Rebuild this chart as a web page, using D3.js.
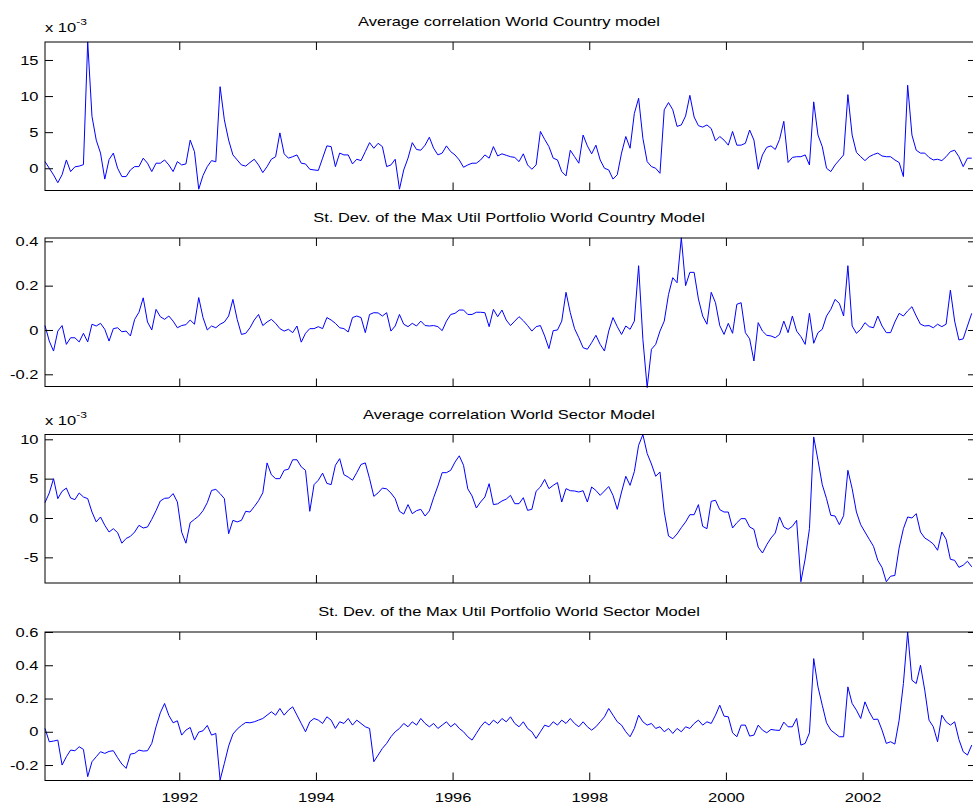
<!DOCTYPE html>
<html>
<head>
<meta charset="utf-8">
<script src="https://cdn.jsdelivr.net/npm/d3@7"></script>
<style>
  html, body { margin: 0; padding: 0; background: #fff; }
  svg { display: block; }
  text { font-family: "Liberation Sans", Arial, Helvetica, sans-serif; fill: #000; }
</style>
</head>
<body>
<svg id="chart" width="973" height="810"></svg>
<script>
// ---- data (samples 1/16 year apart, starting 1990.035) ----
const startYear = 1990.035;
const stepYear = 1 / 16;

const titles = [
  "Average correlation World Country model",
  "St. Dev. of the Max Util Portfolio World Country Model",
  "Average correlation World Sector Model",
  "St. Dev. of the Max Util Portfolio World Sector Model"
];

const xTickValues = [1992, 1994, 1996, 1998, 2000, 2002];
const xTickLabels = ["1992", "1994", "1996", "1998", "2000", "2002"];

const yTicks1 = [0, 5, 10, 15];
const yTicks2 = [-0.2, 0, 0.2, 0.4];
const yTicks3 = [-5, 0, 5, 10];
const yTicks4 = [-0.2, 0, 0.2, 0.4, 0.6];

const yLabels1 = ["0", "5", "10", "15"];
const yLabels2 = ["-0.2", "0", "0.2", "0.4"];
const yLabels3 = ["-5", "0", "5", "10"];
const yLabels4 = ["-0.2", "0", "0.2", "0.4", "0.6"];

const yDomain1 = [-3.08, 17.49];
const yDomain2 = [-0.255, 0.415];
const yDomain3 = [-8.26, 10.61];
const yDomain4 = [-0.293, 0.6];

// panel 1 (x 10^-3)
const countryCorr = [
0.92,0,-0.92,-2.0,-0.9,1.15,-0.46,0.2,0.3,0.5,
17.5,7.2,3.9,2.1,-1.5,1.2,2.1,0,-1.15,-1.15,
-0.23,0.23,0.23,1.4,0.7,-0.46,0.7,0.7,1.15,0.46,
-0.46,0.92,0.46,0.6,3.9,2.3,-2.9,-1.0,0.23,1.06,
0.9,11.3,6.7,3.9,1.85,1.15,0.46,0.3,0.8,1.25,
0.46,-0.6,0.23,1.25,1.6,4.9,2.0,1.4,1.6,1.85,
0.7,0.6,-0.14,-0.23,-0.3,1.4,3.1,3.0,0.23,2.1,
1.85,1.85,0.6,1.25,1.06,2.3,3.55,2.77,3.46,3.0,
0.23,0.46,1.25,-2.9,-0.23,1.4,3.55,2.6,2.5,3.2,
4.3,2.77,1.85,2.1,3.1,2.3,1.85,1.15,0.14,0.46,
0.7,0.7,1.15,1.85,1.4,3.0,1.7,2.0,1.8,1.6,
1.5,0.92,2.0,0.46,-0.14,0.46,5.1,4.0,3.0,1.4,
1.15,-0.46,-1.06,2.5,1.6,0.7,4.6,3.1,2.0,3.2,
1.15,0,-0.23,-1.5,-0.9,2.1,4.4,2.77,7.6,9.7,
4.15,0.92,0.23,0,-0.7,8.1,9.1,8.1,5.8,6.0,
7.25,10.1,7.1,5.9,5.7,6.0,5.5,3.8,4.4,3.9,
3.2,5.1,3.2,3.2,3.46,5.3,3.9,-0.14,1.85,2.9,
3.1,2.6,4.0,6.5,0.8,1.5,1.6,1.6,1.85,0.46,
9.2,4.6,3.0,0,-0.46,0.46,1.15,1.85,10.2,4.6,
2.2,1.6,1.06,1.6,1.9,2.1,1.7,1.6,1.6,1.15,
0.8,-1.15,11.5,4.6,2.5,2.1,2.1,1.5,1.15,1.25,
1.06,1.6,2.3,2.5,1.6,0.23,1.4,1.4
];

// panel 2
const countryStd = [
0.02,-0.05,-0.095,-0.005,0.02,-0.065,-0.035,-0.035,-0.054,-0.015,
-0.054,0.026,0.018,0.03,0.003,-0.05,0.006,0.01,-0.008,-0.005,
-0.027,0.048,0.08,0.145,0.036,0.0,0.093,0.06,0.048,0.063,
0.04,0.01,0.02,0.024,0.045,0.026,0.146,0.056,0,0.018,
0.01,0.026,0.036,0.063,0.138,0.048,-0.02,-0.015,0.01,0.045,
0.07,0.02,0.036,0.048,0.03,0.006,-0.005,0.003,-0.012,0.018,
-0.055,-0.015,0.006,0.006,0.015,0.006,0.056,0.045,0.03,0.01,
0.006,-0.009,0.056,0.063,0.056,-0.012,0.07,0.078,0.077,0.063,
0.078,-0.005,0.018,0.07,0.026,0.015,0.03,0.018,0.04,0.02,
0.018,0.02,0.015,-0.003,0.04,0.07,0.075,0.09,0.09,0.07,
0.07,0.08,0.08,0.078,0.015,0.093,0.06,0.09,0.045,0.02,
0.04,0.06,0.042,0.02,-0.005,0.015,0.02,-0.027,-0.084,-0.003,
0,0.04,0.17,0.078,0.006,-0.035,-0.08,-0.087,-0.057,-0.024,
-0.065,-0.095,-0.005,0.056,0.015,-0.02,0.018,0.003,0.04,0.29,
-0.042,-0.26,-0.087,-0.065,-0.005,0.04,0.16,0.236,0.213,0.416,
0.2,0.26,0.26,0.14,0.063,0.026,0.17,0.123,0.02,-0.02,
0.03,-0.015,0.116,0.123,-0.012,-0.04,-0.14,0.033,-0.005,-0.024,
-0.027,-0.035,-0.02,0.04,-0.012,0.063,-0.005,-0.03,-0.065,0.075,
-0.06,-0.012,0.003,0.063,0.093,0.138,0.12,0.063,0.29,0.018,
-0.015,0.003,0.033,0.015,0.01,0.063,0.018,-0.012,-0.012,0.036,
0.075,0.063,0.086,0.105,0.063,0.026,0.018,0.02,0.01,0.026,
0.015,0.026,0.18,0.04,-0.045,-0.04,0.018,0.075
];

// panel 3 (x 10^-3)
const sectorCorr = [
1.95,3.18,5.0,2.46,3.4,3.8,2.54,2.33,3.18,2.67,
2.46,0.76,-0.5,0.13,-0.93,-1.78,-1.36,-1.86,-3.2,-2.6,
-2.33,-1.78,-0.93,-1.27,-1.14,-0.17,0.93,2.16,2.5,2.54,
3.1,2.03,-1.8,-3.2,-0.6,-0.17,0.25,0.93,1.95,3.5,
3.64,3.1,2.46,-2.0,-0.3,-0.5,-0.3,0.85,0.76,1.44,
2.2,3.2,7.0,5.5,5.0,5.0,6.06,6.2,7.4,7.4,
6.5,6.06,0.85,4.24,4.8,5.7,4.4,4.24,6.7,7.54,
5.5,5.2,4.8,5.76,6.8,7.0,5.0,2.75,3.2,3.8,
3.7,3.18,2.46,0.85,0.5,1.7,0.55,0.93,1.1,0.25,
0.9,2.58,4.07,5.76,5.76,6.06,7.1,7.9,6.7,3.7,
2.8,1.27,2.03,2.67,4.36,1.7,1.8,2.16,2.4,2.88,
1.82,1.82,2.58,0.97,1.1,3.4,3.94,4.9,3.73,4.15,
4.5,2.03,3.73,3.47,3.43,3.3,3.47,2.03,3.94,3.5,
2.88,3.43,4.0,2.88,1.1,3.3,5.3,4.15,5.9,9.24,
10.6,8.2,6.86,5.3,5.85,0.76,-2.29,-2.63,-2.03,-1.23,
-0.5,0.42,0.42,1.7,-1.06,-1.36,2.12,2.25,1.06,0.76,
0.76,-1.27,-0.6,-0.08,-0.08,-1.14,-1.44,-3.7,-4.45,-3.4,
-2.54,-1.9,0.13,-1.14,-1.44,-1.06,-0.3,-8.1,-5.2,-1.36,
10.3,7.33,4.24,2.46,0.34,0.25,-0.85,0.3,6.06,3.73,
0.76,-0.85,-1.78,-2.7,-3.6,-5.38,-6.3,-8.1,-7.4,-7.3,
-3.8,-1.36,0.13,0,0.55,-1.78,-2.54,-2.88,-3.3,-4.1,
-1.78,-2.7,-5.25,-5.38,-6.27,-6.0,-5.5,-6.2
];

// panel 4
const sectorStd = [
0.02,-0.06,-0.056,-0.05,-0.2,-0.15,-0.11,-0.114,-0.09,-0.106,
-0.27,-0.18,-0.15,-0.12,-0.13,-0.118,-0.114,-0.156,-0.194,-0.22,
-0.134,-0.13,-0.11,-0.116,-0.114,-0.07,0.03,0.114,0.17,0.098,
0.054,0.066,-0.02,0.01,0.026,-0.05,-0.002,0.006,0.038,-0.02,
-0.01,-0.29,-0.19,-0.086,-0.014,0.016,0.038,0.056,0.054,0.06,
0.07,0.08,0.1,0.12,0.1,0.14,0.1,0.13,0.15,0.1,
0.05,0.0,0.06,0.08,0.07,0.05,0.09,0.07,0.02,0.06,
0.05,0.08,0.04,0.07,0.05,0.03,0.02,-0.18,-0.14,-0.1,
-0.07,-0.03,0.0,0.02,0.05,0.03,0.06,0.04,0.08,0.05,
0.03,0.05,0.02,0.04,0.06,0.03,0.05,0.02,0.0,-0.03,
-0.05,-0.01,0.03,0.06,0.04,0.07,0.05,0.08,0.06,0.09,
0.05,0.03,0.06,0.02,0.0,-0.04,0.0,0.04,0.03,0.06,
0.04,0.07,0.05,0.08,0.05,0.03,0.06,0.03,0.01,0.03,
0.06,0.09,0.14,0.1,0.06,0.04,0.0,-0.03,0.02,0.1,
0.06,0.04,0.05,0.02,0.03,0.0,0.02,-0.01,0.02,0.0,
0.03,0.02,0.05,0.07,0.04,0.06,0.05,0.1,0.16,0.094,
0.09,-0.006,-0.03,0.04,0.04,-0.026,-0.02,0.04,0.01,-0.006,
0.014,0.01,0.008,0.058,0.03,0.03,0.08,-0.08,-0.07,-0.006,
0.44,0.27,0.16,0.054,0.01,-0.01,-0.03,-0.03,0.27,0.17,
0.13,0.08,0.18,0.12,0.074,0.076,0.01,-0.07,-0.06,-0.074,
0.07,0.29,0.6,0.31,0.29,0.4,0.25,0.07,0.03,-0.06,
0.1,0.06,0.04,0.06,-0.046,-0.12,-0.14,-0.08
];

// ---- layout ----
const W = 973, H = 810;
const left = 45, right = 976;
const panelTops = [42, 238, 434.5, 632];
const panelH = 148.5;
const stretch = 1.27;   // the reference text is horizontally stretched

const panels = [
  { title: titles[0], values: countryCorr, domain: yDomain1, ticks: yTicks1, labels: yLabels1, exp: true },
  { title: titles[1], values: countryStd,  domain: yDomain2, ticks: yTicks2, labels: yLabels2, exp: false },
  { title: titles[2], values: sectorCorr,  domain: yDomain3, ticks: yTicks3, labels: yLabels3, exp: true },
  { title: titles[3], values: sectorStd,   domain: yDomain4, ticks: yTicks4, labels: yLabels4, exp: false }
];

const svg = d3.select("#chart");
svg.append("rect").attr("width", W).attr("height", H).attr("fill", "#fff");

const x = d3.scaleLinear().domain([startYear, 2003.66]).range([left, right]);

function stretchText(sel) {
  sel.each(function () {
    const t = d3.select(this);
    const tx = +t.attr("x") || 0;
    const ty = +t.attr("y") || 0;
    t.attr("x", 0).attr("y", 0)
     .attr("transform", `translate(${tx},${ty}) scale(${stretch},1)`);
  });
}

panels.forEach((p, k) => {
  const top = panelTops[k], bottom = top + panelH;
  const y = d3.scaleLinear().domain(p.domain).range([bottom, top]);
  const g = svg.append("g");

  const line = d3.line()
    .x((d, i) => x(startYear + i * stepYear))
    .y(d => y(d));
  g.append("path")
    .datum(p.values)
    .attr("fill", "none")
    .attr("stroke", "#0000ff")
    .attr("stroke-width", 1)
    .attr("stroke-linejoin", "round")
    .attr("d", line);

  const yl = g.append("g").attr("transform", `translate(${left},0)`)
    .call(d3.axisLeft(y).tickValues(p.ticks).tickSize(-8).tickPadding(6.5)
      .tickFormat((d, i) => p.labels[i]));
  const yr = g.append("g").attr("transform", `translate(${right},0)`)
    .call(d3.axisRight(y).tickValues(p.ticks).tickSize(-8).tickFormat(""));
  const xt = g.append("g").attr("transform", `translate(0,${top})`)
    .call(d3.axisTop(x).tickValues(xTickValues).tickSize(-8).tickFormat(""));
  const xb = g.append("g").attr("transform", `translate(0,${bottom})`)
    .call(d3.axisBottom(x).tickValues(xTickValues).tickSize(-8).tickPadding(12)
      .tickFormat((d, i) => (k === panels.length - 1 ? xTickLabels[i] : "")));

  [yl, yr, xt, xb].forEach(a => {
    a.select(".domain").remove();
    a.selectAll("line").attr("stroke", "#000").attr("stroke-width", 1);
    a.selectAll("text").attr("font-size", 13)
      .attr("font-family", '"Liberation Sans", Arial, Helvetica, sans-serif')
      .attr("fill", "#000");
  });
  stretchText(yl.selectAll("text"));
  stretchText(xb.selectAll("text"));

  g.append("rect")
    .attr("x", left).attr("y", top)
    .attr("width", right - left).attr("height", panelH)
    .attr("fill", "none").attr("stroke", "#000").attr("stroke-width", 1);

  g.append("text")
    .attr("text-anchor", "middle")
    .attr("font-size", 13)
    .attr("transform", `translate(509,${top - 16}) scale(${stretch},1)`)
    .text(p.title);

  if (p.exp) {
    const e = g.append("text")
      .attr("transform", `translate(${left},${top - 10}) scale(${stretch},1)`)
      .attr("font-size", 13);
    e.append("tspan").text("x 10");
    e.append("tspan").attr("font-size", 9.5).attr("dy", -7).text("-3");
  }
});
</script>
</body>
</html>
